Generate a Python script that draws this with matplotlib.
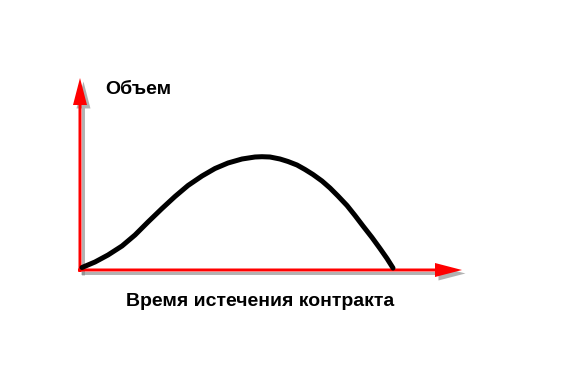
import matplotlib
matplotlib.use("Agg")
import matplotlib.pyplot as plt
import matplotlib.patheffects as pe
from matplotlib.patches import FancyArrow

# curve (time to expiry vs volume)
time_vals = [2, 15, 28, 42, 55, 68, 82, 95, 108, 122, 135, 148, 162,
             175, 182, 190, 200, 208, 217, 225, 233, 242, 250, 258,
             267, 275, 283, 292, 300, 307, 313]
volume_vals = [2.5, 8, 15, 24, 35, 48, 61.5, 73.5, 84.5, 94, 101.5, 107, 111,
               113, 113.3, 113, 111, 108.5, 105, 100.5, 95.5, 89, 82, 74,
               64.5, 54.5, 44, 32.5, 21.5, 11.5, 2]

y_label = "Объем"
x_label = "Время истечения контракта"

fig = plt.figure(figsize=(5.81, 3.70), dpi=100)
ax = fig.add_axes([0, 0, 1, 1])
ax.set_xlim(-80, 501)
ax.set_ylim(-100, 270)
ax.axis("off")

shadow = [pe.SimplePatchShadow(offset=(2.5, -2.5), shadow_rgbFace="#808080", alpha=0.6), pe.Normal()]

# axes drawn as red arrows
yarrow = FancyArrow(0, -2, 0, 194, width=3, head_width=14, head_length=27,
                    length_includes_head=True, color="#ff0000", lw=0)
xarrow = FancyArrow(-2, 0, 384, 0, width=3, head_width=14, head_length=27,
                    length_includes_head=True, color="#ff0000", lw=0)
for a in (yarrow, xarrow):
    a.set_path_effects(shadow)
    ax.add_patch(a)

ax.plot(time_vals, volume_vals, color="black", lw=3.6, solid_capstyle="round",
        solid_joinstyle="round", zorder=5)

ax.text(25, 180, y_label, fontsize=14, fontweight="bold", family="Liberation Sans",
        ha="left", va="center")
ax.text(180, -32, x_label, fontsize=14, fontweight="bold", family="Liberation Sans",
        ha="center", va="center")

fig.savefig("out.png", dpi=100, facecolor="white")
